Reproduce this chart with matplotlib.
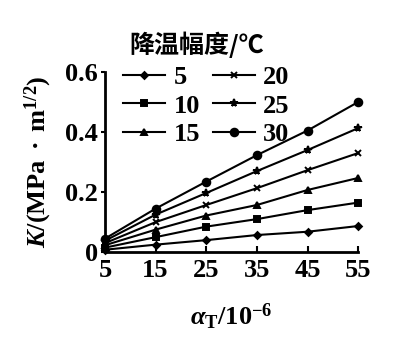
import matplotlib
matplotlib.use("Agg")
import matplotlib.pyplot as plt

x = [5, 15, 25, 35, 45, 55]
temps = ["5", "10", "15", "20", "25", "30"]
k5 = [0.008, 0.025, 0.040, 0.057, 0.068, 0.087]
k10 = [0.015, 0.050, 0.085, 0.110, 0.140, 0.165]
k15 = [0.023, 0.075, 0.122, 0.157, 0.207, 0.247]
k20 = [0.030, 0.100, 0.157, 0.213, 0.273, 0.330]
k25 = [0.038, 0.125, 0.197, 0.270, 0.340, 0.413]
k30 = [0.045, 0.145, 0.235, 0.323, 0.405, 0.500]
series = [k5, k10, k15, k20, k25, k30]
markers = ["D", "s", "^", "x", "*", "o"]
msizes = [3.5, 4, 4.5, 4.5, 5.5, 5.5]

plt.rcParams['font.family'] = ['Liberation Serif', 'Noto Sans CJK SC']
plt.rcParams['font.weight'] = 'bold'
plt.rcParams['mathtext.fontset'] = 'custom'
plt.rcParams['mathtext.rm'] = 'Liberation Serif:bold'
plt.rcParams['mathtext.bf'] = 'Liberation Serif:bold'
plt.rcParams['mathtext.it'] = 'Liberation Serif:italic:bold'

fig = plt.figure(figsize=(4.15, 3.38), dpi=100)
ax = fig.add_axes([0.253, 0.254, 0.610, 0.533])

for k, m, ms, t in zip(series, markers, msizes, temps):
    ax.plot(x, k, color='black', lw=1.5, marker=m, ms=ms, mew=1.4,
            label=t, clip_on=False)

ax.set_xlim(5, 55)
ax.set_ylim(0, 0.6)
ax.set_xticks(x)
ax.set_yticks([0, 0.2, 0.4, 0.6])
ax.set_yticklabels(["0", "0.2", "0.4", "0.6"])
ax.spines['top'].set_visible(False)
ax.spines['right'].set_visible(False)
for s in ['left', 'bottom']:
    ax.spines[s].set_linewidth(2)
ax.tick_params(axis='x', direction='in', length=4, width=1.5, labelsize=19, pad=5)
ax.tick_params(axis='y', direction='out', length=3, width=1.5, labelsize=19, pad=2)
for lab in ax.get_xticklabels() + ax.get_yticklabels():
    lab.set_fontweight('bold')

ax.set_xlabel(r'$\alpha_{\mathrm{T}}/10^{-6}$', fontsize=19, labelpad=14)
ax.set_ylabel(r'$K/(\mathrm{MPa}\ \bullet\ \mathrm{m}^{1/2})$', fontsize=19, labelpad=8)

leg = ax.legend(ncol=2, loc='upper left', bbox_to_anchor=(0.02, 1.11),
                frameon=False, fontsize=19, handlelength=1.6,
                handletextpad=0.3, columnspacing=0.5, labelspacing=0.2,
                borderpad=0)
fig.text(0.475, 0.867, "降温幅度/℃", ha='center', va='center', fontsize=18,
         fontweight='bold', family=['Noto Sans CJK SC', 'DejaVu Sans'])

fig.savefig("out.png", dpi=100)
